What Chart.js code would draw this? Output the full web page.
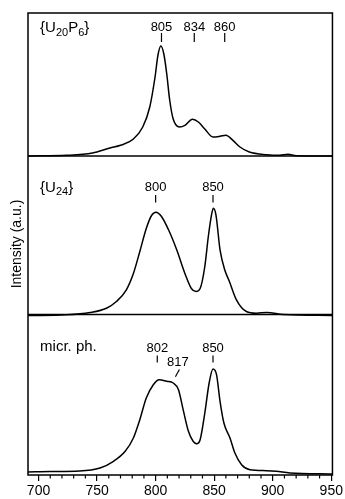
<!DOCTYPE html>
<html><head><meta charset="utf-8">
<script src="https://cdn.jsdelivr.net/npm/chart.js@4.4.1/dist/chart.umd.min.js"></script>
<style>html,body{margin:0;padding:0;background:#fff}#wrap{width:345px;height:499px}</style>
</head><body><div id="wrap"><canvas id="c" width="345" height="499"></canvas></div>
<script>
// ---- data (wavenumber, intensity a.u.) ----
const wnU20P6  = [691, 724, 746, 761, 770, 781, 789, 795, 799.5, 802, 804.5, 807, 809.5, 812, 815, 820.5, 825, 831.5, 836.5, 842, 849, 855, 860, 866, 872, 880, 895, 906, 913, 920, 951];
const intU20P6 = [0, 0.7, 3, 8, 10.7, 17, 29, 49, 79, 101, 110, 102, 82, 56, 37, 29, 30.7, 36.7, 34, 27, 19, 19.7, 20.7, 15.7, 9, 4, 1.3, 0.7, 1.7, 0.3, 0];

const wnU24  = [691, 724, 744, 758, 766.5, 775, 781, 786.5, 792, 796.5, 800.3, 805, 811, 818, 825, 830.5, 834.5, 838, 842, 845, 848, 849.3, 851.5, 855, 859, 863, 869, 877.5, 886, 895, 909, 951];
const intU24 = [0, 0.7, 3, 7.3, 14, 25.7, 42, 64, 87, 100, 103.3, 99, 85.7, 65.7, 42, 27, 24, 27, 49, 79, 102.3, 107.3, 100.7, 65.7, 45.7, 34, 15.7, 4, 2.3, 3, 1, 0];

const wnMicr  = [691, 710, 735, 752.5, 764, 774, 781, 786.5, 792, 798, 803, 809.5, 815, 819.5, 823.5, 828, 832, 835, 838, 842, 845.7, 849, 852, 855, 858.3, 863.5, 867.7, 873.4, 880.5, 894.7, 903, 914.6, 951];
const intMicr = [2, 2.5, 3, 6, 12.7, 22.7, 36, 54.3, 76, 89.3, 94.3, 92.7, 91, 84.3, 64.3, 42.7, 32.7, 30.3, 34.3, 61, 91, 105, 99.3, 72.7, 51, 36, 21, 9.3, 4.3, 3.3, 2.7, 1, 0];

const panelOffsets = [319, 159.5, 1];
const separatorValues = [319, 160.5];

const xTickValues = [700, 750, 800, 850, 900, 950];
const xMinorValues = [710,720,730,740,760,770,780,790,810,820,830,840,860,870,880,890,910,920,930,940];

const peaksU20P6 = ['805', '834', '860'];
const peakWnU20P6 = [805, 833, 859];
const peaksU24 = ['800', '850'];
const peakWnU24 = [800, 849];
const peaksMicr = ['802', '850'];
const peakWnMicr = [801.4, 849];

const FONT = "'Liberation Sans', Arial, Helvetica, sans-serif";

function pts(wn, v, off) { return wn.map((w, i) => ({x: w, y: v[i] + off})); }

const ds = (data) => ({data, showLine: true, borderColor: '#000', borderWidth: 1.5,
  pointRadius: 0, cubicInterpolationMode: 'monotone', fill: false});

const decor = {
  id: 'decor',
  afterDatasetsDraw(chart) {
    const {ctx, chartArea: a, scales: {x, y}} = chart;
    ctx.save();
    ctx.strokeStyle = '#000'; ctx.fillStyle = '#000';
    // frame
    ctx.lineWidth = 1.5;
    ctx.strokeRect(a.left, a.top, a.right - a.left, a.bottom - a.top);
    // separators
    separatorValues.forEach(v => {
      const py = y.getPixelForValue(v);
      ctx.beginPath(); ctx.moveTo(a.left, py); ctx.lineTo(a.right, py); ctx.stroke();
    });
    // minor ticks
    ctx.lineWidth = 1.2;
    xMinorValues.forEach(v => {
      const px = x.getPixelForValue(v);
      ctx.beginPath(); ctx.moveTo(px, a.bottom); ctx.lineTo(px, a.bottom + 3.5); ctx.stroke();
    });
    // peak labels
    ctx.font = '13px ' + FONT;
    ctx.textAlign = 'center'; ctx.textBaseline = 'middle';
    ctx.lineWidth = 1.2;
    function peak(wn, text, yLab, yT1, yT2) {
      const px = x.getPixelForValue(wn);
      ctx.fillText(text, px, y.getPixelForValue(yLab));
      ctx.beginPath(); ctx.moveTo(px, y.getPixelForValue(yT1)); ctx.lineTo(px, y.getPixelForValue(yT2)); ctx.stroke();
    }
    peaksU20P6.forEach((t, i) => peak(peakWnU20P6[i], t, 448, 442, 433));
    peaksU24.forEach((t, i) => peak(peakWnU24[i], t, 288, 280, 272.5));
    peaksMicr.forEach((t, i) => peak(peakWnMicr[i], t, 127, 119.5, 112.5));
    // 817 slanted
    {
      const px = x.getPixelForValue(819);
      ctx.fillText('817', px, y.getPixelForValue(112.5));
      ctx.beginPath();
      ctx.moveTo(x.getPixelForValue(820.3), y.getPixelForValue(105.5));
      ctx.lineTo(x.getPixelForValue(816.9), y.getPixelForValue(98.3));
      ctx.stroke();
    }
    // panel titles
    ctx.textAlign = 'left'; ctx.textBaseline = 'alphabetic';
    function rich(parts, wn, yv) {
      let px = x.getPixelForValue(wn);
      const base = y.getPixelForValue(yv);
      parts.forEach(([t, sub]) => {
        ctx.font = (sub ? '11px ' : '15px ') + FONT;
        ctx.fillText(t, px, base + (sub ? 3.5 : 0));
        px += ctx.measureText(t).width;
      });
    }
    rich([['{U', 0], ['20', 1], ['P', 0], ['6', 1], ['}', 0]], 701.3, 443);
    rich([['{U', 0], ['24', 1], ['}', 0]], 701.3, 283.5);
    rich([['micr. ph.', 0]], 701.3, 124);
    ctx.restore();
  }
};

new Chart(document.getElementById('c'), {
  type: 'scatter',
  data: {datasets: [
    ds(pts(wnU20P6, intU20P6, panelOffsets[0])),
    ds(pts(wnU24, intU24, panelOffsets[1])),
    ds(pts(wnMicr, intMicr, panelOffsets[2]))
  ]},
  options: {
    responsive: false, animation: false, devicePixelRatio: 1,
    layout: {padding: {top: 13, right: 12, left: 0, bottom: 0}},
    plugins: {legend: {display: false}, tooltip: {enabled: false}},
    scales: {
      x: {
        type: 'linear', min: 691, max: 951,
        afterBuildTicks: s => { s.ticks = xTickValues.map(v => ({value: v})); },
        ticks: {color: '#000', font: {family: FONT, size: 14}, padding: 2, maxRotation: 0, autoSkip: false},
        grid: {drawOnChartArea: false, drawTicks: true, tickLength: 6, color: '#000', lineWidth: 1.2},
        border: {display: false},
        afterFit: s => { s.height = 24; }
      },
      y: {
        min: 0, max: 462,
        ticks: {display: false},
        grid: {display: false},
        border: {display: false},
        title: {display: true, text: 'Intensity (a.u.)', color: '#000', font: {family: FONT, size: 14}, padding: {top: 9, bottom: 0}},
        afterFit: s => { s.width = 28; }
      }
    }
  },
  plugins: [decor]
});
</script></body></html>
